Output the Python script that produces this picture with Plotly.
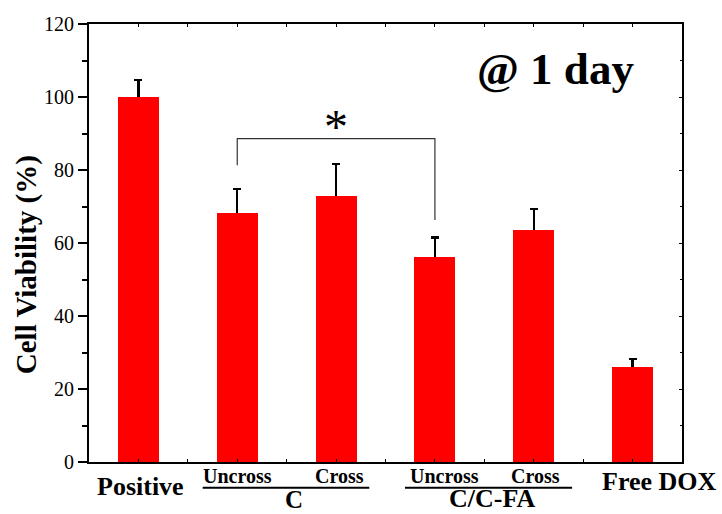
import plotly.graph_objects as go

# ---- data ----
categories = ["Positive", "C Uncross", "C Cross", "C/C-FA Uncross", "C/C-FA Cross", "Free DOX"]
positions = [1, 2, 3, 4, 5, 6]
viability = [100.0, 68.1, 72.8, 56.2, 63.5, 26.1]
errors = [4.6, 6.7, 8.8, 5.3, 5.8, 2.2]
y_ticks = [0, 20, 40, 60, 80, 100, 120]
bracket_x = [2, 4]
bracket_top = 88.6
bracket_feet = [81.3, 66.3]
star_y = 93.5

FONT = "Liberation Serif"
RED = "#ff0000"

fig = go.Figure()
# bars with symmetric error bars (lower half hidden by the overlay bars)
fig.add_trace(go.Bar(
    x=positions, y=viability, width=0.415,
    marker=dict(color=RED, line=dict(width=0)),
    error_y=dict(type="data", array=errors, color="black",
                 thickness=2.2, width=4),
    showlegend=False, hoverinfo="skip",
))
# same bars redrawn on the mirror axes to cover the lower half of the error bars
fig.add_trace(go.Bar(
    x=positions, y=viability, width=0.415, xaxis="x2", yaxis="y2",
    marker=dict(color=RED, line=dict(width=0)),
    showlegend=False, hoverinfo="skip",
))

fig.update_layout(
    width=722, height=514,
    margin=dict(l=89, r=40, t=24, b=52),
    paper_bgcolor="white", plot_bgcolor="white",
    font=dict(family=FONT, color="black"),
    bargap=0,
    xaxis=dict(range=[0.5, 6.5], showline=True, linewidth=2, linecolor="black",
               ticks="inside", ticklen=3, tickwidth=1, tickcolor="black",
               tick0=0.5, dtick=0.5, showticklabels=False, showgrid=False,
               zeroline=False, fixedrange=True),
    xaxis2=dict(range=[0.5, 6.5], overlaying="x", side="top", showline=True,
                linewidth=2, linecolor="black", ticks="inside", ticklen=3,
                tickwidth=1, tickcolor="black", tick0=0.5, dtick=0.5,
                showticklabels=False, showgrid=False, zeroline=False),
    yaxis=dict(range=[0, 120], showline=True, linewidth=2, linecolor="black",
               ticks="outside", ticklen=9, tickwidth=1.5, tickcolor="black",
               tickvals=y_ticks, tickfont=dict(family=FONT, size=20),
               minor=dict(dtick=10, ticks="outside", ticklen=5, tickwidth=1.5,
                          tickcolor="black"),
               showgrid=False, zeroline=False),
    yaxis2=dict(range=[0, 120], overlaying="y", side="right", showline=True,
                linewidth=2, linecolor="black", ticks="inside", ticklen=3,
                tickwidth=1, tickcolor="black", tickvals=y_ticks,
                minor=dict(dtick=10, ticks="inside", ticklen=2, tickcolor="black"),
                showticklabels=False, showgrid=False, zeroline=False),
)

# y-axis title
fig.add_annotation(x=-0.104, y=0.45, xref="paper", yref="paper",
                   text="<b>Cell Viability (%)</b>", textangle=-90, showarrow=False,
                   font=dict(family=FONT, size=29), xanchor="center", yanchor="middle")

# significance bracket
fig.add_shape(type="path", xref="x", yref="y",
              path=f"M {bracket_x[0]} {bracket_feet[0]} L {bracket_x[0]} {bracket_top} "
                   f"L {bracket_x[1]} {bracket_top} L {bracket_x[1]} {bracket_feet[1]}",
              line=dict(color="#333333", width=1.2))
fig.add_annotation(x=sum(bracket_x) / 2, y=star_y, xref="x", yref="y", text="*",
                   showarrow=False, font=dict(family=FONT, size=48),
                   yanchor="middle", yshift=-6)

# title text inside
fig.add_annotation(x=5.216, y=107.6, xref="x", yref="y", text="<b>@ 1 day</b>",
                   showarrow=False, font=dict(family=FONT, size=45), yanchor="middle")

# category labels
def lab(x, y, text, size):
    fig.add_annotation(x=x, y=y, xref="x", yref="paper", text=f"<b>{text}</b>",
                       showarrow=False, font=dict(family=FONT, size=size),
                       yanchor="middle", borderpad=0)

lab(positions[0] + 0.02, -0.057, "Positive", 26)
lab(positions[5] + 0.27, -0.045, "Free DOX", 26)
lab(positions[1], -0.032, "Uncross", 20)
lab(positions[2] + 0.03, -0.032, "Cross", 20)
lab(positions[3] + 0.10, -0.032, "Uncross", 20)
lab(positions[4] + 0.02, -0.032, "Cross", 20)
lab((positions[1] + positions[2]) / 2 + 0.07, -0.086, "C", 25)
lab((positions[3] + positions[4]) / 2 + 0.08, -0.084, "C/C-FA", 26)

for x0, x1 in [(1.65, 3.336), (3.697, 5.388)]:
    fig.add_shape(type="line", xref="x", yref="paper", x0=x0, x1=x1,
                  y0=-0.0587, y1=-0.0587, line=dict(color="black", width=2))

fig.write_html("out.html")
